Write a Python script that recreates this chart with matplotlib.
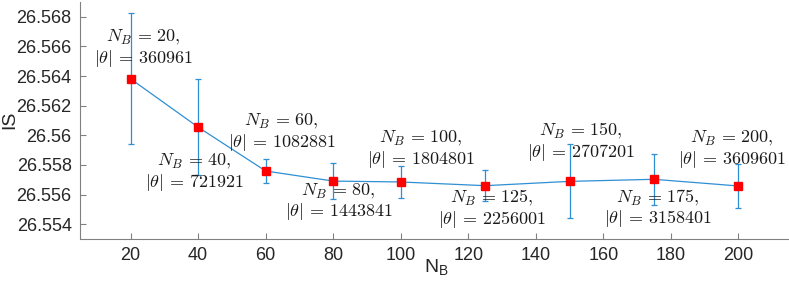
import matplotlib
matplotlib.use("Agg")
import matplotlib.pyplot as plt

plt.rcParams['font.family'] = ['Liberation Sans', 'DejaVu Sans']
plt.rcParams['mathtext.fontset'] = 'cm'

nb = [20, 40, 60, 80, 100, 125, 150, 175, 200]
is_vals = [26.56381, 26.56055, 26.55759, 26.55691, 26.55685, 26.55660, 26.55689, 26.55703, 26.55658]
is_err = [0.00443, 0.00324, 0.00078, 0.00124, 0.00108, 0.00104, 0.00250, 0.00174, 0.00146]
theta = [360961, 721921, 1082881, 1443841, 1804801, 2256001, 2707201, 3158401, 3609601]
label_x = [23.9, 38.8, 64.7, 81.6, 105.9, 127.0, 153.4, 176.3, 198.0]
label_y = [26.56588, 26.55750, 26.56019, 26.55550, 26.55903, 26.55501, 26.55954, 26.55506, 26.55906]
xticks = [20, 40, 60, 80, 100, 120, 140, 160, 180, 200]
yticks = [26.554, 26.556, 26.558, 26.56, 26.562, 26.564, 26.566, 26.568]
ytick_labels = ['26.554', '26.556', '26.558', '26.56', '26.562', '26.564', '26.566', '26.568']

fig = plt.figure(figsize=(7.89, 2.85), dpi=100)
ax = fig.add_axes([80/789, 1 - 239/285, 709/789, 237/285])

blue = '#2f8fd3'
ax.errorbar(nb, is_vals, yerr=is_err, color=blue, lw=0.9, elinewidth=0.9,
            capsize=2.5, capthick=0.9, zorder=2)
ax.plot(nb, is_vals, 's', color='red', ms=6, mec='red', zorder=3)

for x, y, n, t in zip(label_x, label_y, nb, theta):
    ax.text(x, y, r'$N_B\,=\,%d,$' % n + '\n' + r'$|\theta|\,=\,%d$' % t,
            ha='center', va='center', fontsize=13, color='#1a1a1a',
            linespacing=1.05, zorder=4)

ax.set_xlim(5, 215)
ax.set_ylim(26.553, 26.569)
ax.set_xticks(xticks)
ax.set_yticks(yticks)
ax.set_yticklabels(ytick_labels)

for s in ['top', 'right']:
    ax.spines[s].set_visible(False)
for s in ['left', 'bottom']:
    ax.spines[s].set_color('#808080')
    ax.spines[s].set_linewidth(0.8)
ax.tick_params(direction='in', length=4, width=0.8, color='#808080',
               labelsize=13, labelcolor='#262626', pad=6)

ax.set_ylabel('IS', fontsize=14, color='#262626')
ax.yaxis.set_label_coords(-70/709, (239 - 120)/237)
ax.set_xlabel(r'N$_\mathregular{B}$', fontsize=14, color='#262626')
ax.xaxis.set_label_coords((437 - 80)/709, -(268 - 239)/237)
ax.xaxis.label.set_va('center')
ax.yaxis.label.set_va('center')

fig.savefig('out.png', dpi=100)
